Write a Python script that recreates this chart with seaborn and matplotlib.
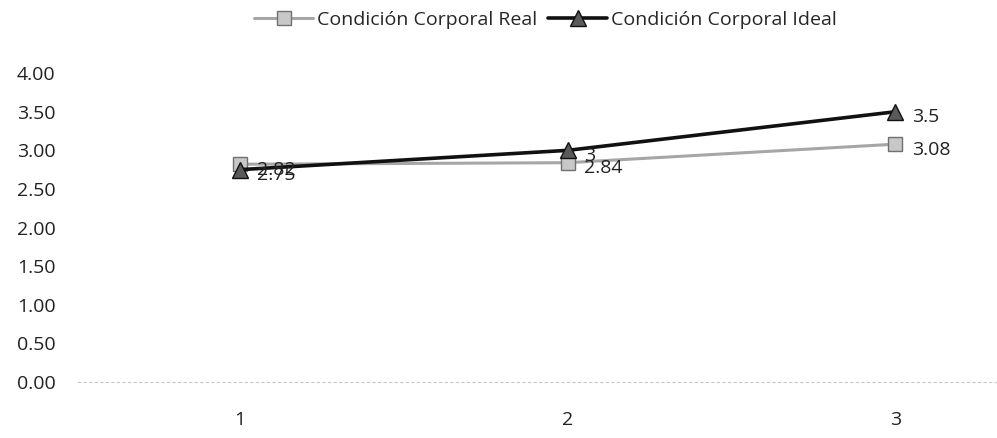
import pandas as pd
import seaborn as sns
import matplotlib.pyplot as plt

puntos = [1, 2, 3]
real = [2.82, 2.84, 3.08]
ideal = [2.75, 3.0, 3.5]
etiquetas_real = ['2.82', '2.84', '3.08']
etiquetas_ideal = ['2.75', '3', '3.5']
yticks = [0.0, 0.5, 1.0, 1.5, 2.0, 2.5, 3.0, 3.5, 4.0]

sns.set_style('white')
plt.rcParams['font.family'] = ['Open Sans', 'DejaVu Sans']

df = pd.DataFrame({'punto': puntos, 'real': real, 'ideal': ideal})

fig = plt.figure(figsize=(9.97, 4.38), dpi=100)
ax = fig.add_axes([0.078, 0.128, 0.922, 0.705])

sns.lineplot(data=df, x='punto', y='real', ax=ax, color='#a6a6a6', lw=2.2,
             marker='s', markersize=10, markerfacecolor='#c8c8c8',
             markeredgecolor='#707070', markeredgewidth=1,
             label='Condición Corporal Real')
sns.lineplot(data=df, x='punto', y='ideal', ax=ax, color='#111111', lw=2.6,
             marker='^', markersize=11, markerfacecolor='#5a5a5a',
             markeredgecolor='#111111', markeredgewidth=1,
             label='Condición Corporal Ideal')

for x, y, t in zip(puntos, real, etiquetas_real):
    ax.annotate(t, (x, y), xytext=(12, -4), textcoords='offset points',
                va='center', ha='left', fontsize=14, color='#222222')
for x, y, t in zip(puntos, ideal, etiquetas_ideal):
    ax.annotate(t, (x, y), xytext=(12, -4), textcoords='offset points',
                va='center', ha='left', fontsize=14, color='#222222')

ax.set_xlim(0.505, 3.31)
ax.set_ylim(0, 4)
ax.set_xticks(puntos)
ax.set_xticklabels([str(p) for p in puntos])
ax.set_yticks(yticks)
ax.set_yticklabels([f'{v:.2f}' for v in yticks])
ax.tick_params(axis='both', labelsize=14, length=0, colors='#222222')
ax.tick_params(axis='x', pad=21)
ax.tick_params(axis='y', pad=16)
ax.set_xlabel('')
ax.set_ylabel('')
for s in ['top', 'right', 'left']:
    ax.spines[s].set_visible(False)
ax.spines['bottom'].set_color('#c8c8c8')
ax.spines['bottom'].set_linestyle((0, (2, 3)))
ax.spines['bottom'].set_linewidth(0.8)

handles, labels = ax.get_legend_handles_labels()
ax.get_legend().remove()
fig.legend(handles, labels, loc='upper center', bbox_to_anchor=(0.547, 1.015),
           ncol=2, frameon=False, fontsize=14, handlelength=3.0,
           columnspacing=0.6, handletextpad=0.2)

fig.savefig('out.png', dpi=100)
